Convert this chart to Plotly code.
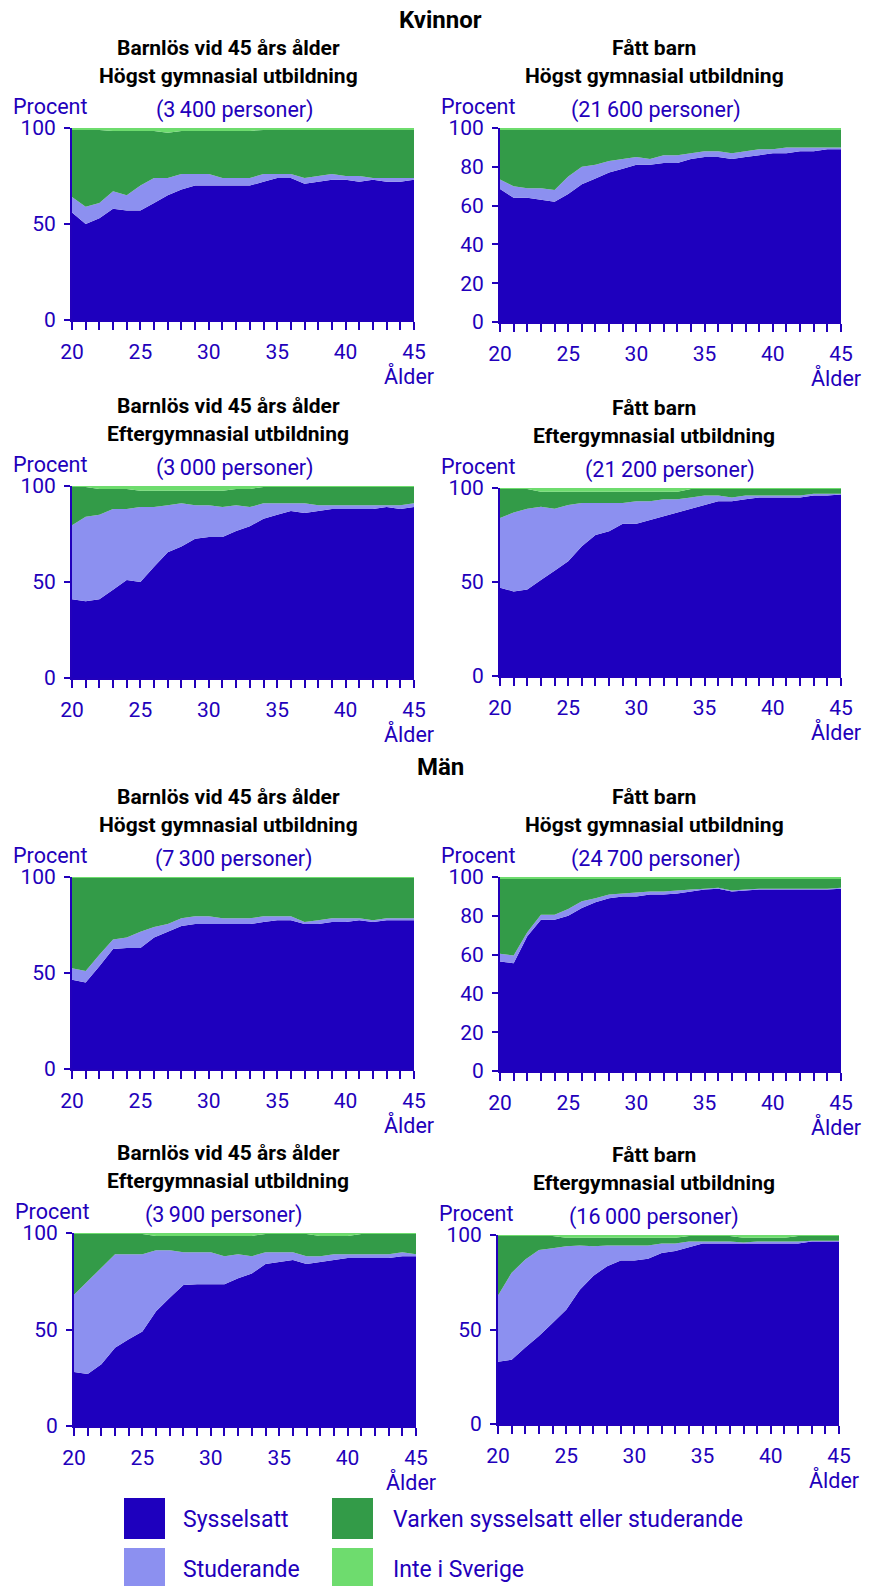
import plotly.graph_objects as go

W, H = 875, 1586
FONT = "Roboto"
BLUE_TXT = "#2200BB"

ages = list(range(20, 46))
x_tick_labels = ["20", "", "", "", "", "25", "", "", "", "", "30", "", "", "", "", "35",
                 "", "", "", "", "40", "", "", "", "", "45"]

categories = ["Sysselsatt", "Studerande", "Varken sysselsatt eller studerande", "Inte i Sverige"]
colors = ["#1E00BE", "#8C90F0", "#339B48", "#6EDC6E"]

# ---- Kvinnor, barnlös, högst gymnasial (3 400 personer)
kv_bl_gym_syss = [56, 50, 53, 58, 57, 57, 61, 65, 68, 70, 70, 70, 70, 70, 72, 74, 74, 71, 72, 73, 73, 72, 73, 72, 72, 73]
kv_bl_gym_stud = [8, 9, 8, 9, 8, 13, 13, 9, 8, 6, 6, 4, 4, 4, 4, 2, 2, 3, 3, 3, 2, 3, 1, 2, 2, 1]
kv_bl_gym_vark = [35, 40, 38, 31.5, 33.5, 28.5, 24.5, 23.5, 22.5, 22.5, 22.5, 24.5, 24.5, 24.5, 23, 23, 23, 25, 24, 23, 24, 24, 25, 25, 25, 25]
kv_bl_gym_inte = [1, 1, 1, 1.5, 1.5, 1.5, 1.5, 2.5, 1.5, 1.5, 1.5, 1.5, 1.5, 1.5, 1, 1, 1, 1, 1, 1, 1, 1, 1, 1, 1, 1]

# ---- Kvinnor, fått barn, högst gymnasial (21 600 personer)
kv_fb_gym_syss = [68.5, 64, 64, 63, 62, 66, 71, 74, 77, 79, 81, 81, 82, 82, 84, 85, 85, 84, 85, 86, 87, 87, 88, 88, 89, 89]
kv_fb_gym_stud = [5, 6, 5, 6, 6, 9, 9, 7, 6, 5, 4, 3, 4, 4, 3, 3, 3, 3, 3, 3, 2, 3, 2, 2, 1, 1]
kv_fb_gym_vark = [25.5, 29, 30, 30, 31, 24, 19, 18, 16, 15, 14, 15, 13, 13, 12, 11, 11, 12, 11, 10, 10, 9, 9, 9, 9, 9]
kv_fb_gym_inte = [1, 1, 1, 1, 1, 1, 1, 1, 1, 1, 1, 1, 1, 1, 1, 1, 1, 1, 1, 1, 1, 1, 1, 1, 1, 1]

# ---- Kvinnor, barnlös, eftergymnasial (3 000 personer)
kv_bl_eft_syss = [41, 40, 41, 46, 51, 50, 58, 65.5, 68.5, 72.5, 73.5, 73.5, 76.5, 79, 83, 85, 87, 86, 87, 88, 88, 88, 88, 89, 88, 89]
kv_bl_eft_stud = [38.5, 44, 44, 42, 37, 39, 31, 24.5, 22.5, 17.5, 16.5, 15.5, 13.5, 10, 8, 6, 4, 5, 3, 2, 2, 2, 2, 1, 2, 2]
kv_bl_eft_vark = [20, 15.5, 13.5, 10.5, 10.5, 8.5, 8.5, 7.5, 6.5, 7.5, 7.5, 8.5, 8.5, 9.5, 8.5, 8.5, 8.5, 8.5, 9.5, 9.5, 9.5, 9.5, 9.5, 9.5, 9.5, 8.5]
kv_bl_eft_inte = [0.5, 0.5, 1.5, 1.5, 1.5, 2.5, 2.5, 2.5, 2.5, 2.5, 2.5, 2.5, 1.5, 1.5, 0.5, 0.5, 0.5, 0.5, 0.5, 0.5, 0.5, 0.5, 0.5, 0.5, 0.5, 0.5]

# ---- Kvinnor, fått barn, eftergymnasial (21 200 personer)
kv_fb_eft_syss = [47, 45, 46, 51, 56, 61, 69, 75, 77, 81, 81, 83, 85, 87, 89, 91, 93, 93, 94, 95, 95, 95, 95, 96, 96, 96.5]
kv_fb_eft_stud = [37, 42, 43, 39, 33, 30, 23, 17, 15, 11, 12, 10, 9, 7, 6, 5, 3, 2, 2, 1, 1, 1, 1, 1, 1, 0.5]
kv_fb_eft_vark = [15.5, 12.5, 10.5, 8, 9, 7, 6, 6, 6, 6, 5, 5, 4, 4, 4.5, 3.5, 3.5, 4.5, 3.5, 3.5, 3.5, 3.5, 3.5, 2.5, 2.5, 2.5]
kv_fb_eft_inte = [0.5, 0.5, 0.5, 2, 2, 2, 2, 2, 2, 2, 2, 2, 2, 2, 0.5, 0.5, 0.5, 0.5, 0.5, 0.5, 0.5, 0.5, 0.5, 0.5, 0.5, 0.5]

# ---- Män, barnlös, högst gymnasial (7 300 personer)
man_bl_gym_syss = [46.5, 45, 53.5, 62.5, 63, 63, 68.5, 71.5, 74.5, 75.5, 75.5, 75.5, 75.5, 75.5, 76.5, 77.5, 77.5, 75.5, 75.5, 76.5, 76.5, 77.5, 76.5, 77.5, 77.5, 77.5]
man_bl_gym_stud = [6, 6, 6, 5, 5.5, 8.5, 5.5, 4, 4, 4, 4, 3, 3, 3, 3, 2, 2, 1, 2, 2, 2, 1, 1, 1, 1, 1]
man_bl_gym_vark = [47, 48.5, 40, 32, 31, 28, 25.5, 24, 21, 20, 20, 21, 21, 21, 20, 20, 20, 23, 22, 21, 21, 21, 22, 21, 21, 21]
man_bl_gym_inte = [0.5, 0.5, 0.5, 0.5, 0.5, 0.5, 0.5, 0.5, 0.5, 0.5, 0.5, 0.5, 0.5, 0.5, 0.5, 0.5, 0.5, 0.5, 0.5, 0.5, 0.5, 0.5, 0.5, 0.5, 0.5, 0.5]

# ---- Män, fått barn, högst gymnasial (24 700 personer)
man_fb_gym_syss = [56.5, 55.5, 69.5, 78, 78, 80, 84, 87, 89, 90, 90, 91, 91, 91.5, 92.5, 93.5, 94, 92.5, 93, 93.5, 93.5, 93.5, 93.5, 93.5, 93.5, 94]
man_fb_gym_stud = [4, 4, 2, 2.5, 2.5, 3.5, 3.5, 2, 2, 1.5, 2, 1.5, 1.5, 1.5, 1, 0.5, 0.5, 0.5, 0.5, 0.5, 0.5, 0.5, 0.5, 0.5, 0.5, 0.5]
man_fb_gym_vark = [38.5, 39.5, 27.5, 18.5, 18.5, 15.5, 11.5, 10, 8, 7.5, 7, 6.5, 6.5, 6, 5.5, 5, 4.5, 6, 5.5, 5, 5, 5, 5, 5, 5, 4.5]
man_fb_gym_inte = [1, 1, 1, 1, 1, 1, 1, 1, 1, 1, 1, 1, 1, 1, 1, 1, 1, 1, 1, 1, 1, 1, 1, 1, 1, 1]

# ---- Män, barnlös, eftergymnasial (3 900 personer)
man_bl_eft_syss = [28, 27, 32, 40.5, 45, 49, 59.5, 66.5, 73, 73.5, 73.5, 73.5, 76.5, 79, 84, 85, 86, 84, 85, 86, 87, 87, 87, 87, 88, 88]
man_bl_eft_stud = [40, 48, 50, 48.5, 44, 40, 31.5, 24.5, 17, 16.5, 16.5, 14.5, 12.5, 9, 6, 5, 4, 4, 3, 3, 2, 2, 2, 2, 2, 1]
man_bl_eft_vark = [31.5, 24.5, 17.5, 10.5, 10.5, 10.5, 7.5, 7.5, 8.5, 8.5, 8.5, 10.5, 9.5, 10.5, 9.5, 9.5, 9.5, 11.5, 10.5, 9.5, 9.5, 10.5, 10.5, 10.5, 9.5, 10.5]
man_bl_eft_inte = [0.5, 0.5, 0.5, 0.5, 0.5, 0.5, 1.5, 1.5, 1.5, 1.5, 1.5, 1.5, 1.5, 1.5, 0.5, 0.5, 0.5, 0.5, 1.5, 1.5, 1.5, 0.5, 0.5, 0.5, 0.5, 0.5]

# ---- Män, fått barn, eftergymnasial (16 000 personer)
man_fb_eft_syss = [33, 34, 40.5, 46.5, 53.5, 60.5, 71, 78.5, 83.5, 86.5, 86.5, 87.5, 90.5, 91.5, 93.5, 95.5, 95.5, 95.5, 95.5, 95.5, 95.5, 95.5, 95.5, 96.5, 96.5, 96.5]
man_fb_eft_stud = [35, 46, 46.5, 45.5, 39.5, 33.5, 23.5, 15.5, 11, 8, 8, 7, 5, 4, 3, 1, 1, 1, 0.5, 1, 1, 1, 1, 0.5, 0.5, 0.5]
man_fb_eft_vark = [31.5, 19.5, 12.5, 7.5, 6.5, 4.5, 4, 4.5, 4, 4, 4, 4, 3, 3, 3, 3, 3, 3, 2.5, 2, 2, 2, 3, 2.5, 2.5, 2.5]
man_fb_eft_inte = [0.5, 0.5, 0.5, 0.5, 0.5, 1.5, 1.5, 1.5, 1.5, 1.5, 1.5, 1.5, 1.5, 1.5, 0.5, 0.5, 0.5, 0.5, 1.5, 1.5, 1.5, 1.5, 0.5, 0.5, 0.5, 0.5]

section_titles = ["Kvinnor", "Män"]
title_left = "Barnlös vid 45 års ålder"
title_right = "Fått barn"
edu_gym = "Högst gymnasial utbildning"
edu_eft = "Eftergymnasial utbildning"
persons = ["(3\u2009400 personer)", "(21\u2009600 personer)", "(3\u2009000 personer)", "(21\u2009200 personer)",
           "(7\u2009300 personer)", "(24\u2009700 personer)", "(3\u2009900 personer)", "(16\u2009000 personer)"]

panel_data = [
    (kv_bl_gym_syss, kv_bl_gym_stud, kv_bl_gym_vark, kv_bl_gym_inte),
    (kv_fb_gym_syss, kv_fb_gym_stud, kv_fb_gym_vark, kv_fb_gym_inte),
    (kv_bl_eft_syss, kv_bl_eft_stud, kv_bl_eft_vark, kv_bl_eft_inte),
    (kv_fb_eft_syss, kv_fb_eft_stud, kv_fb_eft_vark, kv_fb_eft_inte),
    (man_bl_gym_syss, man_bl_gym_stud, man_bl_gym_vark, man_bl_gym_inte),
    (man_fb_gym_syss, man_fb_gym_stud, man_fb_gym_vark, man_fb_gym_inte),
    (man_bl_eft_syss, man_bl_eft_stud, man_bl_eft_vark, man_bl_eft_inte),
    (man_fb_eft_syss, man_fb_eft_stud, man_fb_eft_vark, man_fb_eft_inte),
]

# layout (pixel boxes: x0, x1, ytop, ybottom)
boxes = [
    (72, 414, 128, 320), (500, 841, 128, 322),
    (72, 414, 486, 678), (500, 841, 488, 676),
    (72, 414, 877, 1069), (500, 841, 877, 1071),
    (74, 416, 1233, 1426), (498, 839, 1235, 1424),
]
fine_y = [False, True, False, False, False, True, False, False]
person_x = [235, 656, 235, 670, 234, 656, 224, 654]

TICK_SIZE = 21
BLUE_SIZE = 21.5
TITLE_SIZE = 21
SECTION_SIZE = 24
LEGEND_SIZE = 23


def px(x):
    return x / W


def py(y):
    return 1 - y / H


fig = go.Figure()
annotations = []
shapes = []

for i, (data, box) in enumerate(zip(panel_data, boxes)):
    n = i + 1
    xa = "x" if n == 1 else f"x{n}"
    ya = "y" if n == 1 else f"y{n}"
    for cat, col, vals in zip(categories, colors, data):
        fig.add_trace(go.Scatter(
            x=ages, y=vals, name=cat, mode="none", stackgroup=f"g{n}",
            fillcolor=col, line=dict(width=0), showlegend=False,
            xaxis=xa, yaxis=ya, hoverinfo="skip"))
    x0, x1, yt, yb = box
    xkey = "xaxis" if n == 1 else f"xaxis{n}"
    ykey = "yaxis" if n == 1 else f"yaxis{n}"
    ytv = [0, 20, 40, 60, 80, 100] if fine_y[i] else [0, 50, 100]
    fig.update_layout(**{
        xkey: dict(domain=[px(x0), px(x1)], anchor=ya, range=[20, 45],
                   tickvals=ages, ticktext=x_tick_labels, ticks="outside", ticklen=8,
                   tickwidth=2, tickcolor=BLUE_TXT, showline=True, linecolor=BLUE_TXT,
                   linewidth=2, showgrid=False, zeroline=False, ticklabelstandoff=4,
                   automargin=False, fixedrange=True,
                   tickfont=dict(family=FONT, size=TICK_SIZE, color=BLUE_TXT)),
        ykey: dict(domain=[py(yb), py(yt)], anchor=xa, range=[0, 100],
                   tickvals=ytv, ticks="outside", ticklen=6, tickwidth=2,
                   tickcolor=BLUE_TXT, showline=True, linecolor=BLUE_TXT, linewidth=2,
                   showgrid=False, zeroline=False, ticklabelstandoff=4,
                   automargin=False, fixedrange=True,
                   tickfont=dict(family=FONT, size=TICK_SIZE, color=BLUE_TXT)),
    })
    left = (i % 2 == 0)
    row = i // 2
    edu = edu_gym if row % 2 == 0 else edu_eft
    tcx = 228 if left else 654
    annotations.append(dict(x=px(tcx), y=py(yt - 80), xref="paper", yref="paper",
                            text=f"<b>{title_left if left else title_right}</b>", showarrow=False,
                            font=dict(family=FONT, size=TITLE_SIZE, color="black"),
                            xanchor="center", yanchor="middle"))
    annotations.append(dict(x=px(tcx), y=py(yt - 52), xref="paper", yref="paper",
                            text=f"<b>{edu}</b>", showarrow=False,
                            font=dict(family=FONT, size=TITLE_SIZE, color="black"),
                            xanchor="center", yanchor="middle"))
    annotations.append(dict(x=px(person_x[i]), y=py(yt - 18), xref="paper", yref="paper",
                            text=persons[i], showarrow=False,
                            font=dict(family=FONT, size=BLUE_SIZE, color=BLUE_TXT),
                            xanchor="center", yanchor="middle"))
    annotations.append(dict(x=px(x0 - 61), y=py(yt - 22), xref="paper", yref="paper",
                            text="Procent", showarrow=False,
                            font=dict(family=FONT, size=BLUE_SIZE, color=BLUE_TXT),
                            xanchor="left", yanchor="middle"))
    annotations.append(dict(x=px(x1 - 5), y=py(yb + 56), xref="paper", yref="paper",
                            text="Ålder", showarrow=False,
                            font=dict(family=FONT, size=BLUE_SIZE, color=BLUE_TXT),
                            xanchor="center", yanchor="middle"))

# section headers
for txt, yy in zip(section_titles, [20, 767]):
    annotations.append(dict(x=px(440), y=py(yy), xref="paper", yref="paper",
                            text=f"<b>{txt}</b>", showarrow=False,
                            font=dict(family=FONT, size=SECTION_SIZE, color="black"),
                            xanchor="center", yanchor="middle"))

# legend (custom)
legend_pos = [(124, 1498, 181), (124, 1548, 181), (332, 1498, 391), (332, 1548, 391)]
legend_order = [0, 1, 2, 3]
for (lx, ly, tx), k in zip(legend_pos, legend_order):
    shapes.append(dict(type="rect", xref="paper", yref="paper",
                       x0=px(lx), x1=px(lx + 41), y0=py(ly + 41), y1=py(ly),
                       fillcolor=colors[k], line=dict(width=0)))
    annotations.append(dict(x=px(tx), y=py(ly + 21), xref="paper", yref="paper",
                            text=categories[k], showarrow=False,
                            font=dict(family=FONT, size=LEGEND_SIZE, color=BLUE_TXT),
                            xanchor="left", yanchor="middle"))

fig.update_layout(width=W, height=H, autosize=False,
                  margin=dict(l=0, r=0, t=0, b=0, pad=0),
                  paper_bgcolor="white", plot_bgcolor="white",
                  showlegend=False, annotations=annotations, shapes=shapes,
                  hovermode=False,
                  font=dict(family=FONT, color=BLUE_TXT))

fig.write_html("out.html",
               config={"displayModeBar": False, "staticPlot": True},
               post_script="document.body.style.margin='0px';"
                           "document.documentElement.style.overflow='hidden';")
